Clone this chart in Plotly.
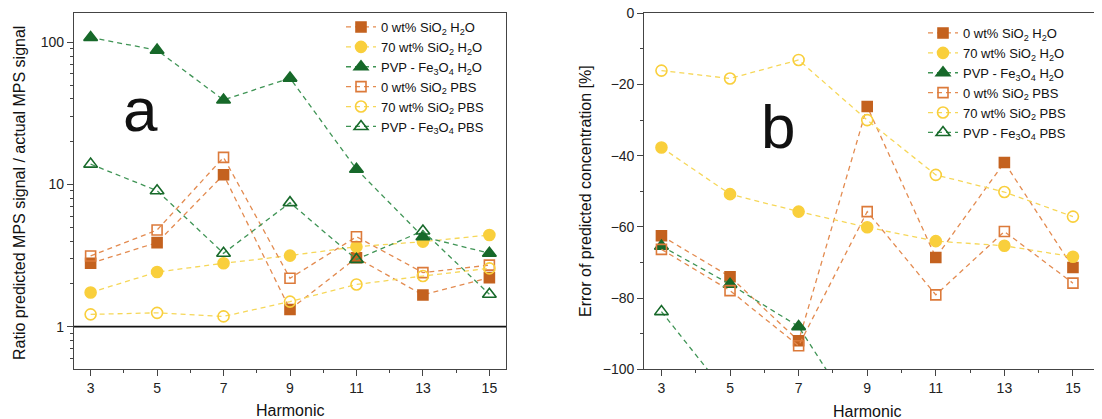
import plotly.graph_objects as go

harmonics = [3, 5, 7, 9, 11, 13, 15]

series_names = [
    "0 wt% SiO<sub>2</sub> H<sub>2</sub>O",
    "70 wt% SiO<sub>2</sub> H<sub>2</sub>O",
    "PVP - Fe<sub>3</sub>O<sub>4</sub> H<sub>2</sub>O",
    "0 wt% SiO<sub>2</sub> PBS",
    "70 wt% SiO<sub>2</sub> PBS",
    "PVP - Fe<sub>3</sub>O<sub>4</sub> PBS",
]

# Panel a: ratio predicted / actual MPS signal (log scale)
ratio_sio0_h2o = [2.79, 3.90, 11.7, 1.32, 3.05, 1.67, 2.21]
ratio_sio70_h2o = [1.74, 2.42, 2.79, 3.16, 3.65, 3.96, 4.41]
ratio_pvp_h2o = [108, 88, 39.3, 56, 12.8, 4.29, 3.28]
ratio_sio0_pbs = [3.14, 4.78, 15.5, 2.19, 4.29, 2.40, 2.71]
ratio_sio70_pbs = [1.22, 1.25, 1.18, 1.50, 1.98, 2.27, 2.57]
ratio_pvp_pbs = [13.9, 9.04, 3.28, 7.45, 2.97, 4.71, 1.69]

# Panel b: error of predicted concentration [%]
err_sio0_h2o = [-62.5, -74.0, -92.0, -26.2, -68.6, -41.9, -71.4]
err_sio70_h2o = [-37.7, -50.8, -55.7, -60.1, -64.0, -65.3, -68.4]
err_pvp_h2o = [-65.4, -76.1, -88.0, -118, -135, -150, -140]
err_sio0_pbs = [-66.3, -77.9, -93.4, -55.7, -79.1, -61.3, -75.8]
err_sio70_pbs = [-16.1, -18.3, -13.1, -30.0, -45.4, -50.2, -57.1]
err_pvp_pbs = [-83.8, -108, -140, -120, -145, -130, -150]

ORANGE_M = "#c4621f"
ORANGE_O = "#dc7a3a"
ORANGE_L = "#e38b50"
YELLOW_M = "#f9cf3c"
YELLOW_L = "#f6d758"
GREEN_M = "#17692a"
GREEN_L = "#3f9455"

styles = [
    dict(symbol="square", mcolor=ORANGE_M, lcolor=ORANGE_L),
    dict(symbol="circle", mcolor=YELLOW_M, lcolor=YELLOW_L),
    dict(symbol="triangle-up", mcolor=GREEN_M, lcolor=GREEN_L),
    dict(symbol="square-open", mcolor=ORANGE_O, lcolor=ORANGE_L),
    dict(symbol="circle-open", mcolor=YELLOW_M, lcolor=YELLOW_L),
    dict(symbol="triangle-up-open", mcolor=GREEN_M, lcolor=GREEN_L),
]
sizes = [10, 11, 12, 10, 11, 12]

FONT = "Liberation Sans, Arial, sans-serif"

fig = go.Figure()

panel_a = [ratio_sio0_h2o, ratio_sio70_h2o, ratio_pvp_h2o,
           ratio_sio0_pbs, ratio_sio70_pbs, ratio_pvp_pbs]
panel_b = [err_sio0_h2o, err_sio70_h2o, err_pvp_h2o,
           err_sio0_pbs, err_sio70_pbs, err_pvp_pbs]

for i, (name, vals) in enumerate(zip(series_names, panel_a)):
    st = styles[i]
    fig.add_trace(go.Scatter(
        x=harmonics, y=vals, name=name, mode="lines+markers",
        xaxis="x", yaxis="y", legend="legend",
        line=dict(color=st["lcolor"], width=1.3, dash="5px,4px"),
        marker=dict(symbol=st["symbol"], color=st["mcolor"], size=sizes[i],
                    line=dict(width=1.6, color=st["mcolor"])),
    ))

for i, (name, vals) in enumerate(zip(series_names, panel_b)):
    st = styles[i]
    fig.add_trace(go.Scatter(
        x=harmonics, y=vals, name=name, mode="lines+markers",
        xaxis="x2", yaxis="y2", legend="legend2",
        line=dict(color=st["lcolor"], width=1.3, dash="5px,4px"),
        marker=dict(symbol=st["symbol"], color=st["mcolor"], size=sizes[i],
                    line=dict(width=1.6, color=st["mcolor"])),
    ))

W, H = 1102, 419
OX, OY = 8, 8  # page body offset of the figure in the browser

def px_x(p):
    return (p - OX) / W

def px_y(p):
    return 1 - (p - OY) / H

axis_common = dict(
    showline=True, linecolor="#444", linewidth=1.2, ticks="outside",
    ticklen=6, tickwidth=1.2, tickcolor="#444", showgrid=False, zeroline=False,
    automargin=False, ticklabeloverflow="allow",
    tickfont=dict(family=FONT, size=14, color="#222"),
)

x_ticks = [3, 5, 7, 9, 11, 13, 15]
x_minor = [4, 6, 8, 10, 12, 14]
y_log_ticks = [1, 10, 100]
y_log_minor = [0.6, 0.7, 0.8, 0.9, 2, 3, 4, 5, 6, 7, 8, 9,
               20, 30, 40, 50, 60, 70, 80, 90]
y_err_ticks = [0, -20, -40, -60, -80, -100]
y_err_minor = [-10, -30, -50, -70, -90]

def ann(text, x, y, xref="paper", size=16, angle=0):
    return dict(text=text, x=x, y=y, xref=xref, yref="paper",
                xanchor="center", yanchor="middle", textangle=angle,
                showarrow=False, font=dict(family=FONT, size=size, color="#111"))

legend_font = dict(family=FONT, size=13, color="#111")

fig.update_layout(
    width=W, height=H,
    margin=dict(l=0, r=0, t=0, b=0, autoexpand=False),
    paper_bgcolor="white", plot_bgcolor="white",
    font=dict(family=FONT, color="#111"),
    xaxis=dict(axis_common, domain=[px_x(74), px_x(506)], range=[2.5, 15.5],
               tickvals=x_ticks, mirror=True, anchor="y",
               minor=dict(tickvals=x_minor, ticks="outside", ticklen=3,
                          tickcolor="#444", tickwidth=1.2)),
    yaxis=dict(axis_common, domain=[px_y(369), px_y(13)], type="log",
               range=[-0.298, 2.206], tickvals=y_log_ticks,
               ticktext=["1", "10", "100"], mirror=True, anchor="x",
               minor=dict(tickvals=y_log_minor, ticks="outside", ticklen=3,
                          tickcolor="#444", tickwidth=1.2)),
    xaxis2=dict(axis_common, domain=[px_x(644.3), 1.0], range=[2.5, 16.08],
                tickvals=x_ticks, mirror=True, anchor="y2",
                minor=dict(tickvals=x_minor, ticks="outside", ticklen=3,
                           tickcolor="#444", tickwidth=1.2)),
    yaxis2=dict(axis_common, domain=[px_y(369.3), px_y(13.3)],
                range=[-100, 0], tickvals=y_err_ticks, anchor="x2",
                mirror=False,
                minor=dict(tickvals=y_err_minor, ticks="outside", ticklen=3,
                           tickcolor="#444", tickwidth=1.2)),
    legend=dict(x=px_x(341), y=px_y(12), xanchor="left", yanchor="top",
                bgcolor="rgba(0,0,0,0)", borderwidth=0,
                font=legend_font, itemwidth=30),
    legend2=dict(x=px_x(923), y=px_y(18), xanchor="left", yanchor="top",
                 bgcolor="rgba(0,0,0,0)", borderwidth=0,
                 font=legend_font, itemwidth=30),
    shapes=[dict(type="line", xref="x domain", yref="y", x0=0, x1=1,
                 y0=1, y1=1, line=dict(color="#111", width=1.6))],
    annotations=[
        ann("a", px_x(140), px_y(110), size=62),
        ann("b", px_x(778), px_y(126), size=62),
        ann("Harmonic", 9, px_y(410), xref="x"),
        ann("Harmonic", 9, px_y(411), xref="x2"),
        ann("Ratio predicted MPS signal / actual MPS signal",
            px_x(20), px_y(193), angle=-90),
        ann("Error of predicted concentration [%]",
            px_x(585), px_y(191), angle=-90),
    ],
)

fig.write_html("out.html")
